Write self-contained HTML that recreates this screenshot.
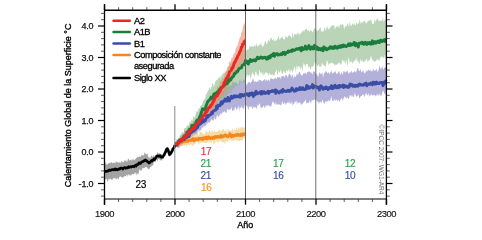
<!DOCTYPE html>
<html><head><meta charset="utf-8"><title>Calentamiento Global</title>
<style>html,body{margin:0;padding:0;background:#fff;width:482px;height:232px;overflow:hidden}svg{display:block;will-change:transform}text{font-family:"Liberation Sans",sans-serif}</style>
</head><body>
<svg width="482" height="232" viewBox="0 0 482 232">
<rect width="482" height="232" fill="#fff"/>
<path d="M104.5,165.2 105.2,163.9 105.9,162 106.6,165 107.3,164.5 108,163.8 108.7,162.9 109.4,162.8 110.1,163.5 110.8,162.6 111.5,162.1 112.3,163.5 113,162.5 113.7,162.8 114.4,163.3 115.1,161.5 115.8,163.4 116.5,161.2 117.2,162.5 117.9,162.1 118.6,162.9 119.3,161.6 120,163.7 120.7,162.1 121.4,160.6 122.1,163 122.8,161.2 123.5,162.7 124.2,160 124.9,161.3 125.7,160.5 126.4,160.5 127.1,162.2 127.8,159.4 128.5,158.3 129.2,160.5 129.9,160.2 130.6,159.6 131.3,160.9 132,158.6 132.7,159.9 133.4,159.3 134.1,160.4 134.8,159.5 135.5,159.2 136.2,157.9 136.9,157.7 137.6,156.6 138.3,157.4 139,156.4 139.8,156.2 140.5,157 141.2,155.4 141.9,155.2 142.6,155.1 143.3,155.4 144,154.9 144.7,152 145.4,153.5 146.1,154.8 146.8,153.4 147.5,153.7 148.2,157.1 148.9,157.2 149.6,157.5 150.3,158.4 151,155.4 151.7,155.8 152.4,156.6 153.1,156.9 153.8,154.8 154.6,156.8 155.3,155.4 156,155.5 156.7,154.4 157.4,151.8 158.1,153.7 158.8,152.9 159.5,153.3 160.2,153.4 160.9,154.9 161.6,154.2 162.3,154.8 163,154.1 163.7,152.8 164.4,150.8 165.1,149.5 165.8,148.7 166.5,147.4 167.2,147.6 167.9,146.3 168.7,148.7 169.4,152.4 170.1,151 170.8,150.5 171.5,148.9 172.2,148.2 172.9,147.1 173.6,144.7 174.3,146.3 175,142.3 L175,147.6 174.3,149.2 173.6,149.4 172.9,151.3 172.2,154 171.5,154.8 170.8,155.9 170.1,156.4 169.4,156.8 168.7,153.9 167.9,151.5 167.2,150.1 166.5,154 165.8,154.8 165.1,156.2 164.4,156 163.7,158.5 163,159.4 162.3,159.1 161.6,160.8 160.9,160.6 160.2,160 159.5,159.3 158.8,159.3 158.1,159.2 157.4,161.8 156.7,159.3 156,160.2 155.3,162.2 154.6,162.1 153.8,161.4 153.1,165.8 152.4,165.6 151.7,165.5 151,167.5 150.3,166.6 149.6,169 148.9,168.6 148.2,169.4 147.5,168.2 146.8,167.2 146.1,167.1 145.4,167 144.7,167.7 144,168.3 143.3,168.1 142.6,168 141.9,170 141.2,170.8 140.5,170.7 139.8,169 139,170.7 138.3,175 137.6,173.8 136.9,172.7 136.2,175.7 135.5,172.6 134.8,172.4 134.1,174.6 133.4,173.9 132.7,174.2 132,173.7 131.3,175.2 130.6,175.6 129.9,174.8 129.2,175.4 128.5,173.8 127.8,176.9 127.1,173.9 126.4,175.4 125.7,176 124.9,176.4 124.2,175.7 123.5,177.1 122.8,178.2 122.1,176.9 121.4,177.2 120.7,176 120,177.3 119.3,176.4 118.6,179.4 117.9,178.6 117.2,178.3 116.5,179.1 115.8,179 115.1,177.4 114.4,178.2 113.7,178.5 113,178 112.3,180.3 111.5,179.9 110.8,178.3 110.1,179.2 109.4,179.5 108.7,178.6 108,181.6 107.3,181 106.6,178.9 105.9,178.5 105.2,179.4 104.5,180.1Z" fill="#a3a3a3"/>
<path d="M175,144.3 175.7,143.6 176.4,139.6 177.1,140.3 177.8,140.1 178.5,139.8 179.2,140 179.9,137.7 180.6,135.5 181.3,136.4 182.1,135.3 182.8,134.4 183.5,133 184.2,134.7 184.9,132.1 185.6,132.3 186.3,129.2 187,130.8 187.7,128.2 188.4,126.1 189.1,128 189.8,127.7 190.5,125.9 191.2,125.4 191.9,126.1 192.6,123.3 193.3,120.4 194,122.8 194.7,122 195.4,122.5 196.1,119.8 196.9,121.2 197.6,120.3 198.3,116.1 199,118.5 199.7,114.9 200.4,113.5 201.1,114.5 201.8,113.2 202.5,110.4 203.2,112.6 203.9,112.3 204.6,112.5 205.3,109.7 206,106.7 206.7,106.6 207.4,108.4 208.1,107.4 208.8,106.1 209.5,104.1 210.2,104 211,102.5 211.7,101.6 212.4,101.6 213.1,100.5 213.8,99.3 214.5,98.9 215.2,97.3 215.9,94.5 216.6,95.5 217.3,95.5 218,97.2 218.7,93.4 219.4,96 220.1,94.5 220.8,90.5 221.5,90 222.2,90.6 222.9,92.1 223.6,89.6 224.3,89.4 225.1,87 225.8,84.2 226.5,86.6 227.2,87.5 227.9,87.6 228.6,85.6 229.3,85.4 230,86.3 230.7,84.2 231.4,85.6 232.1,82.1 232.8,81.9 233.5,81.6 234.2,83.5 234.9,81.9 235.6,82.5 236.3,82.6 237,82.3 237.7,83.5 238.4,83.4 239.2,80 239.9,81.2 240.6,80.4 241.3,79.1 242,82.8 242.7,81.2 243.4,79.7 244.1,79.2 244.8,80.1 245.5,77.9 L245.5,105.3 244.8,104.6 244.1,108 243.4,108.9 242.7,107.3 242,108.5 241.3,105.6 240.6,108.7 239.9,106.6 239.2,111.4 238.4,105.6 237.7,108.2 237,109.8 236.3,109.4 235.6,107 234.9,107.3 234.2,110.4 233.5,110.1 232.8,111 232.1,110.5 231.4,106.5 230.7,109.4 230,109.4 229.3,109.8 228.6,109.6 227.9,110.6 227.2,107.7 226.5,113.1 225.8,112.5 225.1,112.4 224.3,110.7 223.6,112.7 222.9,111.2 222.2,113.4 221.5,113.9 220.8,112.7 220.1,115.3 219.4,115.2 218.7,116.2 218,117.4 217.3,114.2 216.6,116.4 215.9,119.4 215.2,118.9 214.5,117 213.8,120.9 213.1,119.1 212.4,120.8 211.7,118.7 211,120.5 210.2,121.3 209.5,123.3 208.8,122.4 208.1,122.1 207.4,123.8 206.7,123.3 206,125.8 205.3,125.7 204.6,125.4 203.9,127.7 203.2,125.1 202.5,128.5 201.8,127.1 201.1,130.3 200.4,130.4 199.7,129.9 199,132.7 198.3,129.9 197.6,131.9 196.9,134.2 196.1,134.5 195.4,134 194.7,135.4 194,135.6 193.3,135.5 192.6,136.6 191.9,137.3 191.2,138.6 190.5,137.2 189.8,136.8 189.1,140.6 188.4,138 187.7,140.5 187,142.9 186.3,140.9 185.6,142.6 184.9,139.9 184.2,143 183.5,139.6 182.8,145.2 182.1,144.3 181.3,144.7 180.6,142.6 179.9,143.9 179.2,143.1 178.5,148 177.8,145 177.1,144.7 176.4,147.5 175.7,148.1 175,146.3Z" fill="#a6a2d3" fill-opacity="0.85"/>
<path d="M245.5,83.5 246.2,84.1 246.9,85.5 247.6,83 248.3,82.3 249,82.3 249.7,82.1 250.4,83.6 251.1,81.8 251.8,81.7 252.5,79.4 253.3,78.4 254,81.5 254.7,82.3 255.4,81.1 256.1,81.8 256.8,81.9 257.5,80.7 258.2,82.2 258.9,79.5 259.6,80.5 260.3,79.8 261,80.4 261.7,81.1 262.4,81.4 263.1,80.1 263.8,80.5 264.5,79.1 265.2,79.4 265.9,81.4 266.6,79.1 267.4,81.2 268.1,79.9 268.8,79.3 269.5,82 270.2,78.4 270.9,78.2 271.6,78.6 272.3,78.9 273,78.7 273.7,79.6 274.4,78.3 275.1,78.7 275.8,77.6 276.5,79.5 277.2,77.1 277.9,77.1 278.6,77.5 279.3,77.8 280,76.2 280.8,79.5 281.5,76.1 282.2,76.3 282.9,76.1 283.6,75.8 284.3,77.4 285,76.6 285.7,75.1 286.4,75.3 287.1,75.6 287.8,78.2 288.5,74.9 289.2,73.8 289.9,74 290.6,75.2 291.3,77.9 292,73.9 292.7,75.5 293.4,79.2 294.1,74.5 294.9,77.4 295.6,77 296.3,75.8 297,72.8 297.7,75.3 298.4,74.1 299.1,71.7 299.8,71.9 300.5,74.5 301.2,74.6 301.9,76.1 302.6,75.1 303.3,73.2 304,73.2 304.7,73.5 305.4,72 306.1,74.7 306.8,73.4 307.5,72 308.2,72 308.9,71.1 309.7,72 310.4,72.9 311.1,71.7 311.8,73.7 312.5,74.5 313.2,70.9 313.9,71.8 314.6,71.2 315.3,74.3 316,72.7 316.7,74 317.4,75 318.1,77.2 318.8,74.1 319.5,72.2 320.2,73 320.9,74.6 321.6,73.6 322.3,72.4 323,77.9 323.8,73.8 324.5,72.7 325.2,72.5 325.9,70.8 326.6,71.7 327.3,73 328,73 328.7,72.2 329.4,74.2 330.1,73.4 330.8,71.9 331.5,70.2 332.2,73.5 332.9,73.3 333.6,72.8 334.3,71 335,73.1 335.7,70.7 336.4,74.5 337.1,73.2 337.9,73.2 338.6,71.6 339.3,71.1 340,75.1 340.7,74.1 341.4,72.1 342.1,73.6 342.8,74.9 343.5,70.8 344.2,71.6 344.9,71.6 345.6,73.1 346.3,70.6 347,72.6 347.7,70.4 348.4,73.6 349.1,73.4 349.8,71.7 350.5,73.1 351.2,70.9 352,71.5 352.7,73.3 353.4,71.7 354.1,72.3 354.8,70.2 355.5,72.6 356.2,72.3 356.9,69.6 357.6,67.9 358.3,68.3 359,71.3 359.7,70.9 360.4,68.8 361.1,71.4 361.8,72.7 362.5,70.9 363.2,70.3 363.9,72.2 364.6,73.5 365.3,73.1 366.1,69.7 366.8,71.9 367.5,70.8 368.2,70.2 368.9,69.5 369.6,70.9 370.3,69.5 371,71.7 371.7,70.8 372.4,71.7 373.1,68.3 373.8,70 374.5,71.1 375.2,70.4 375.9,70.1 376.6,68.6 377.3,72.1 378,71.1 378.7,70 379.4,65.4 380.2,67.8 380.9,69.4 381.6,68 382.3,65.8 383,69.3 383.7,69.4 384.4,66.9 385.1,67.9 385.8,67.6 386.5,69.3 L386.5,93.9 385.8,93.9 385.1,93 384.4,94.6 383.7,91.1 383,90.7 382.3,92.6 381.6,96.2 380.9,94.3 380.2,96.3 379.4,93.6 378.7,95.1 378,96.3 377.3,93.5 376.6,94.9 375.9,96.8 375.2,95.2 374.5,94.9 373.8,95.6 373.1,94.7 372.4,95.9 371.7,94.1 371,94.6 370.3,95.6 369.6,96.9 368.9,92.7 368.2,95.3 367.5,95.2 366.8,94.4 366.1,92.4 365.3,94.4 364.6,97.5 363.9,94.6 363.2,95.4 362.5,93.9 361.8,95.8 361.1,96 360.4,96.5 359.7,98.8 359,96.9 358.3,94.3 357.6,95.7 356.9,96.4 356.2,97.1 355.5,95.1 354.8,92.4 354.1,96.6 353.4,97.4 352.7,95 352,97.2 351.2,94.7 350.5,96.3 349.8,94.5 349.1,98.2 348.4,98.9 347.7,98.1 347,96.3 346.3,98.8 345.6,97.7 344.9,96.8 344.2,96.6 343.5,98.7 342.8,100.9 342.1,98.5 341.4,98.1 340.7,99.1 340,100.9 339.3,102 338.6,99.6 337.9,100.5 337.1,100.7 336.4,99.3 335.7,100.2 335,101.3 334.3,98.4 333.6,101.1 332.9,100.6 332.2,101.6 331.5,96.1 330.8,98.7 330.1,100.4 329.4,101.6 328.7,99.7 328,101.7 327.3,100.7 326.6,102.1 325.9,101.2 325.2,101.6 324.5,103.9 323.8,103.2 323,101.3 322.3,99 321.6,103.8 320.9,101.4 320.2,102.2 319.5,102.1 318.8,104.2 318.1,101.4 317.4,101.5 316.7,101 316,98.9 315.3,100.3 314.6,99.3 313.9,100.2 313.2,99.8 312.5,100.7 311.8,99.5 311.1,103.8 310.4,101.9 309.7,100.3 308.9,103.1 308.2,102.8 307.5,102.6 306.8,104 306.1,102 305.4,99.3 304.7,101.4 304,101.4 303.3,103 302.6,104.5 301.9,102.8 301.2,105.5 300.5,103.8 299.8,101.5 299.1,103.5 298.4,103 297.7,101.4 297,105.1 296.3,100.5 295.6,101.8 294.9,101.8 294.1,103.7 293.4,104 292.7,106.1 292,100.7 291.3,103.9 290.6,103 289.9,104.3 289.2,100.8 288.5,103.1 287.8,102.9 287.1,101.9 286.4,103.8 285.7,105.2 285,102.5 284.3,102.8 283.6,104.1 282.9,103.9 282.2,100.3 281.5,104.5 280.8,105.7 280,104.2 279.3,104.8 278.6,104.1 277.9,104.7 277.2,104.5 276.5,104.5 275.8,102.2 275.1,105.6 274.4,103.5 273.7,102.6 273,101.6 272.3,101.9 271.6,104.9 270.9,107.6 270.2,106 269.5,105.9 268.8,105.3 268.1,105.7 267.4,105.5 266.6,104.9 265.9,107.8 265.2,105 264.5,108.8 263.8,105.5 263.1,106.5 262.4,107.7 261.7,107.3 261,108.8 260.3,106 259.6,103 258.9,104.4 258.2,105.8 257.5,104.4 256.8,110 256.1,107 255.4,107.5 254.7,107.1 254,107.8 253.3,106.2 252.5,109.5 251.8,107.4 251.1,105.9 250.4,106.4 249.7,107.5 249,106.2 248.3,110.5 247.6,106.4 246.9,106.6 246.2,104.9 245.5,104.7Z" fill="#a6a2d3" fill-opacity="0.85"/>
<path d="M175,141.3 175.7,144.4 176.4,140.1 177.1,140.7 177.8,137.6 178.5,138.3 179.2,138.4 179.9,136 180.6,134.2 181.3,134.1 182.1,132.3 182.8,132.6 183.5,133.7 184.2,128.6 184.9,128 185.6,127.9 186.3,127.2 187,124.9 187.7,126.1 188.4,125.6 189.1,123.9 189.8,121 190.5,123.7 191.2,119.1 191.9,120.7 192.6,120.4 193.3,116.1 194,117 194.7,117.7 195.4,115.3 196.1,112.4 196.9,110.8 197.6,111.9 198.3,109.5 199,107.9 199.7,108.5 200.4,105.9 201.1,105.2 201.8,104.7 202.5,103.4 203.2,101.3 203.9,100 204.6,99.4 205.3,97.8 206,94.3 206.7,94.2 207.4,92 208.1,90.3 208.8,90.1 209.5,86.6 210.2,90 211,86.8 211.7,87.4 212.4,83.5 213.1,82.8 213.8,87.2 214.5,84.9 215.2,81.8 215.9,80.8 216.6,80 217.3,80.3 218,78.7 218.7,77.6 219.4,77.9 220.1,75.5 220.8,79.4 221.5,74.5 222.2,76.1 222.9,72.5 223.6,73.4 224.3,73.5 225.1,70.9 225.8,71.9 226.5,71.1 227.2,71.2 227.9,68.2 228.6,66.6 229.3,65 230,65.7 230.7,63.2 231.4,63.7 232.1,63 232.8,61.2 233.5,59.6 234.2,60.8 234.9,59.7 235.6,58.8 236.3,57.5 237,58 237.7,54.4 238.4,55.6 239.2,53.5 239.9,54.5 240.6,52 241.3,51.1 242,51.4 242.7,47 243.4,48.5 244.1,45.8 244.8,46.3 245.5,48 L245.5,80.7 244.8,82.6 244.1,82.3 243.4,83 242.7,82.9 242,82.7 241.3,82.4 240.6,80.3 239.9,83.8 239.2,86.6 238.4,81.7 237.7,82.4 237,86.7 236.3,85.7 235.6,85.4 234.9,87.9 234.2,89 233.5,88.1 232.8,88.9 232.1,90.8 231.4,90.5 230.7,94.2 230,90.3 229.3,92.9 228.6,92.9 227.9,93.8 227.2,95 226.5,95.7 225.8,97.6 225.1,100 224.3,95.2 223.6,100.2 222.9,98.7 222.2,100.5 221.5,100.8 220.8,98.7 220.1,99.7 219.4,103.2 218.7,100.6 218,100.2 217.3,102.8 216.6,105 215.9,103.6 215.2,108.4 214.5,106.7 213.8,108.5 213.1,108.4 212.4,108 211.7,106.8 211,107.4 210.2,110.3 209.5,111.2 208.8,109.4 208.1,112.2 207.4,113.8 206.7,115.1 206,113 205.3,112.2 204.6,116.7 203.9,119.9 203.2,119.4 202.5,121.3 201.8,121.7 201.1,121 200.4,123.7 199.7,127.1 199,122.9 198.3,126.5 197.6,126.3 196.9,128.8 196.1,128.6 195.4,131.8 194.7,131.1 194,131.8 193.3,130.4 192.6,132.9 191.9,134.6 191.2,135.8 190.5,135.8 189.8,139 189.1,136.9 188.4,140.1 187.7,137.2 187,141.6 186.3,143.9 185.6,143.3 184.9,145 184.2,145.2 183.5,143.5 182.8,144.6 182.1,145.6 181.3,145.9 180.6,144.6 179.9,148.6 179.2,146 178.5,148.4 177.8,146.5 177.1,146.2 176.4,146.3 175.7,145.9 175,147.2Z" fill="#8ab787" fill-opacity="0.6"/>
<path d="M245.5,50.3 246.2,50 246.9,51 247.6,48.6 248.3,49.8 249,48.2 249.7,45.8 250.4,46.7 251.1,46.2 251.8,46.2 252.5,46.5 253.3,46.6 254,46.6 254.7,44.6 255.4,47.6 256.1,43.1 256.8,45.2 257.5,46.4 258.2,45.7 258.9,45.8 259.6,44.2 260.3,45.5 261,42.1 261.7,45.2 262.4,47.6 263.1,44.7 263.8,46.7 264.5,43.1 265.2,41 265.9,41.4 266.6,44.6 267.4,43.4 268.1,38.8 268.8,41.1 269.5,41.5 270.2,39.4 270.9,36.8 271.6,38.6 272.3,40.4 273,39.8 273.7,39.1 274.4,41.1 275.1,41.6 275.8,39.5 276.5,41 277.2,39.3 277.9,38.8 278.6,34.7 279.3,40 280,38.5 280.8,38.4 281.5,37.2 282.2,35.9 282.9,38.4 283.6,38.7 284.3,40 285,38.5 285.7,35.8 286.4,36.4 287.1,38.1 287.8,36.7 288.5,35.8 289.2,34.8 289.9,36.5 290.6,35.7 291.3,38.2 292,36.8 292.7,31.8 293.4,38.2 294.1,34.8 294.9,33.6 295.6,34.4 296.3,35 297,33.5 297.7,33.2 298.4,33.1 299.1,36.1 299.8,32.9 300.5,33.9 301.2,33.2 301.9,31.7 302.6,30.8 303.3,30.2 304,32.4 304.7,29.8 305.4,29.2 306.1,29.1 306.8,28.5 307.5,31 308.2,30.9 308.9,29 309.7,32.7 310.4,29.8 311.1,30.9 311.8,30.5 312.5,32.8 313.2,31.2 313.9,29.6 314.6,28 315.3,27.7 316,29.6 316.7,30.4 317.4,31.5 318.1,29.4 318.8,30.4 319.5,28.8 320.2,26.8 320.9,29.7 321.6,32.1 322.3,30.9 323,31.7 323.8,31.1 324.5,26.7 325.2,28.4 325.9,31.3 326.6,27.4 327.3,26.2 328,28.9 328.7,29.3 329.4,28.6 330.1,27.4 330.8,26.7 331.5,25.6 332.2,25.4 332.9,25.4 333.6,24.9 334.3,26 335,29.7 335.7,27.2 336.4,26.3 337.1,27.4 337.9,25 338.6,27.1 339.3,27.9 340,23.7 340.7,24.9 341.4,25.6 342.1,24.3 342.8,23.9 343.5,25 344.2,29.8 344.9,26.6 345.6,26.1 346.3,26.9 347,24.7 347.7,22.8 348.4,25.6 349.1,26.7 349.8,21.1 350.5,25.2 351.2,26.5 352,23.8 352.7,23.4 353.4,25.3 354.1,22.6 354.8,24.8 355.5,25.4 356.2,23.4 356.9,22.3 357.6,24.7 358.3,22.9 359,23.5 359.7,18.4 360.4,24.4 361.1,20.7 361.8,23.1 362.5,23.1 363.2,21.6 363.9,21.2 364.6,20.4 365.3,22 366.1,23.5 366.8,23.3 367.5,21.4 368.2,21.2 368.9,19.7 369.6,21.3 370.3,20.1 371,19.2 371.7,21.5 372.4,24.3 373.1,23.7 373.8,24 374.5,18.7 375.2,22.9 375.9,19.2 376.6,20.2 377.3,18.1 378,19.2 378.7,21 379.4,21.1 380.2,20.5 380.9,20.2 381.6,21.2 382.3,20.2 383,17.2 383.7,22.7 384.4,19.2 385.1,21 385.8,18.7 386.5,17 L386.5,55.5 385.8,60.1 385.1,53.7 384.4,57.3 383.7,59.1 383,56.3 382.3,57.6 381.6,56 380.9,58.4 380.2,56.5 379.4,61.5 378.7,59.9 378,60.3 377.3,58.4 376.6,60.5 375.9,60.5 375.2,61.6 374.5,61.5 373.8,61.4 373.1,60.3 372.4,60.1 371.7,58.6 371,55.5 370.3,58.3 369.6,60.3 368.9,59.7 368.2,61.8 367.5,61.3 366.8,59.2 366.1,59.1 365.3,61.3 364.6,61.4 363.9,61.2 363.2,62.5 362.5,60.8 361.8,59.8 361.1,62.4 360.4,58.6 359.7,63.1 359,64.3 358.3,60.6 357.6,62.3 356.9,57.1 356.2,61 355.5,59.1 354.8,60.9 354.1,60.5 353.4,62.5 352.7,64 352,61.3 351.2,61.9 350.5,61.3 349.8,63.5 349.1,59 348.4,57.2 347.7,66.7 347,63.1 346.3,59.4 345.6,64.7 344.9,59.7 344.2,62.9 343.5,60.9 342.8,59.5 342.1,61.2 341.4,64.2 340.7,64.1 340,65.2 339.3,62 338.6,62.7 337.9,64.6 337.1,63.3 336.4,65.6 335.7,64 335,66.3 334.3,64.1 333.6,64.5 332.9,62.5 332.2,63.1 331.5,63.2 330.8,62.4 330.1,64.5 329.4,62.7 328.7,65.3 328,63.3 327.3,60.1 326.6,61.8 325.9,66.5 325.2,66.5 324.5,66.1 323.8,64.3 323,66.1 322.3,62.1 321.6,64.8 320.9,67.4 320.2,65.7 319.5,67.4 318.8,63.8 318.1,66 317.4,66.7 316.7,63.5 316,65.2 315.3,63.1 314.6,62 313.9,65.6 313.2,65.8 312.5,67.3 311.8,65.5 311.1,68.7 310.4,69.7 309.7,66.3 308.9,68.2 308.2,66.3 307.5,63.7 306.8,63.7 306.1,64.1 305.4,68.3 304.7,63.7 304,65.8 303.3,62.2 302.6,71.6 301.9,68.6 301.2,66.5 300.5,69.7 299.8,67.6 299.1,66.3 298.4,66 297.7,66.7 297,70.5 296.3,64.2 295.6,72.7 294.9,66.3 294.1,67.9 293.4,69.9 292.7,73.3 292,70.7 291.3,69.2 290.6,70.7 289.9,73.4 289.2,69.5 288.5,69.6 287.8,71.9 287.1,70 286.4,70.3 285.7,73.1 285,73.8 284.3,71 283.6,71 282.9,73.9 282.2,73.7 281.5,72.4 280.8,68.9 280,72.5 279.3,72.4 278.6,70.5 277.9,73.4 277.2,74.9 276.5,68.9 275.8,71.7 275.1,72.2 274.4,75.4 273.7,75 273,75.9 272.3,73.7 271.6,75.1 270.9,75.3 270.2,74.3 269.5,73 268.8,75.5 268.1,74.6 267.4,72.7 266.6,72.8 265.9,72.1 265.2,73.2 264.5,74.1 263.8,76 263.1,71.6 262.4,75.7 261.7,73.1 261,71.9 260.3,72.9 259.6,69.5 258.9,72.7 258.2,77.1 257.5,74.7 256.8,74.3 256.1,71.3 255.4,72 254.7,77 254,74.2 253.3,74.2 252.5,72.1 251.8,74.5 251.1,76.3 250.4,79.6 249.7,75 249,74.3 248.3,76.6 247.6,73.8 246.9,78.7 246.2,74.8 245.5,76.5Z" fill="#8ab787" fill-opacity="0.6"/>
<path d="M175,141.1 175.7,142.1 176.4,140.8 177.1,139.3 177.8,141.2 178.5,138.9 179.2,139.9 179.9,138.8 180.6,137.8 181.3,136.2 182.1,134.9 182.8,133.6 183.5,135.4 184.2,129.8 184.9,130.3 185.6,130.3 186.3,131.2 187,130.1 187.7,128.4 188.4,127.9 189.1,130.2 189.8,125.9 190.5,122 191.2,128.2 191.9,123.3 192.6,123.4 193.3,123.3 194,120.3 194.7,123.2 195.4,120.4 196.1,117.6 196.9,119.2 197.6,118.6 198.3,117 199,116.9 199.7,113.1 200.4,115.7 201.1,112.2 201.8,114.4 202.5,110.6 203.2,110.8 203.9,113.4 204.6,108.7 205.3,109.2 206,107.3 206.7,103.4 207.4,106.2 208.1,105.1 208.8,100.4 209.5,101.3 210.2,98.1 211,98.7 211.7,99.3 212.4,97 213.1,93.9 213.8,93.1 214.5,93.3 215.2,92 215.9,91 216.6,90.5 217.3,85.5 218,87.1 218.7,87.5 219.4,85.2 220.1,82.2 220.8,81 221.5,80.8 222.2,80.3 222.9,77.9 223.6,79 224.3,77.1 225.1,72.6 225.8,72.9 226.5,70.1 227.2,67.4 227.9,66.6 228.6,66 229.3,61.4 230,61.9 230.7,61.8 231.4,58.6 232.1,57.4 232.8,57.7 233.5,54.5 234.2,52.9 234.9,53.7 235.6,49.2 236.3,47.5 237,45.8 237.7,45.7 238.4,41.9 239.2,39.5 239.9,37.3 240.6,36.9 241.3,32.1 242,32.5 242.7,28.8 243.4,24.3 244.1,25 244.8,22.4 245.5,17.8 L245.5,57.3 244.8,58.4 244.1,61 243.4,60.8 242.7,62.8 242,62.9 241.3,64.9 240.6,67.5 239.9,68.1 239.2,66.7 238.4,72.5 237.7,70.1 237,73.1 236.3,74 235.6,75.4 234.9,74.2 234.2,75.2 233.5,77.1 232.8,79.6 232.1,81.3 231.4,82.1 230.7,82.3 230,83.8 229.3,86 228.6,84.4 227.9,89.2 227.2,87.2 226.5,89.1 225.8,89.9 225.1,91.1 224.3,93.4 223.6,95.2 222.9,96 222.2,93.9 221.5,96.8 220.8,96 220.1,96.1 219.4,100.9 218.7,98.8 218,101.6 217.3,103.7 216.6,104.4 215.9,105.1 215.2,105.4 214.5,106.2 213.8,108.9 213.1,110.3 212.4,108.9 211.7,110.8 211,111.7 210.2,112.9 209.5,113.9 208.8,113.1 208.1,118.4 207.4,116.7 206.7,117.4 206,118.5 205.3,121.3 204.6,119.4 203.9,120.8 203.2,120.1 202.5,122.7 201.8,121 201.1,124.5 200.4,124.8 199.7,126.8 199,128.2 198.3,129 197.6,129.7 196.9,126.9 196.1,131.5 195.4,132.7 194.7,133.8 194,132.8 193.3,134.6 192.6,133 191.9,135.7 191.2,137.3 190.5,135.6 189.8,137.2 189.1,139.6 188.4,139 187.7,140.5 187,139.8 186.3,138.6 185.6,141.4 184.9,143.3 184.2,142.2 183.5,143.2 182.8,145 182.1,143.6 181.3,145.6 180.6,145.9 179.9,146.5 179.2,146.7 178.5,146.7 177.8,149 177.1,144.5 176.4,145.9 175.7,146.9 175,147.2Z" fill="#f08766" fill-opacity="0.6"/>
<path d="M175,144.3 175.7,141.6 176.4,142.5 177.1,142 177.8,142.6 178.5,141.3 179.2,139.4 179.9,141.5 180.6,138.6 181.3,138.5 182.1,138.2 182.8,140.9 183.5,137.8 184.2,136.5 184.9,138 185.6,136.7 186.3,139.6 187,135.6 187.7,137.1 188.4,135 189.1,138.2 189.8,134.8 190.5,135.8 191.2,134.3 191.9,136.4 192.6,135.8 193.3,132 194,135.7 194.7,135.4 195.4,134.7 196.1,135.5 196.9,132.6 197.6,131.8 198.3,134.7 199,135.8 199.7,132 200.4,131.9 201.1,132.2 201.8,131.6 202.5,134 203.2,133 203.9,134.4 204.6,134.4 205.3,131.2 206,133.2 206.7,129.4 207.4,132.1 208.1,132.9 208.8,131 209.5,129.7 210.2,131.2 211,133.3 211.7,131.2 212.4,129.8 213.1,132.1 213.8,132.4 214.5,130 215.2,131 215.9,132.5 216.6,131.5 217.3,131.9 218,130.5 218.7,130.6 219.4,129.2 220.1,129.7 220.8,132.5 221.5,129.9 222.2,129.2 222.9,129.7 223.6,128.9 224.3,130.8 225.1,131.2 225.8,128.7 226.5,131.2 227.2,132.4 227.9,128.3 228.6,130.5 229.3,129.8 230,131.1 230.7,131 231.4,130.7 232.1,129.6 232.8,128.6 233.5,131.8 234.2,127.9 234.9,130.2 235.6,130 236.3,127.7 237,128.6 237.7,130.3 238.4,126 239.2,129.3 239.9,127.8 240.6,127.8 241.3,126.2 242,128.4 242.7,126.5 243.4,128.6 244.1,126.2 244.8,128.5 245.5,127.9 L245.5,139.8 244.8,139.2 244.1,138.2 243.4,137.4 242.7,140.7 242,140.2 241.3,140.8 240.6,140.2 239.9,140.8 239.2,141.4 238.4,139.9 237.7,140.7 237,140.7 236.3,140.4 235.6,139.2 234.9,140.6 234.2,140.8 233.5,140.8 232.8,141.1 232.1,139.9 231.4,141.6 230.7,139.2 230,139.8 229.3,140.8 228.6,139.3 227.9,143 227.2,141.9 226.5,140.7 225.8,140.7 225.1,144.4 224.3,141.9 223.6,141.7 222.9,143 222.2,141.4 221.5,141.1 220.8,142.8 220.1,139.7 219.4,141.2 218.7,141.6 218,143.4 217.3,141 216.6,142 215.9,139.6 215.2,142.8 214.5,143.3 213.8,144.1 213.1,143 212.4,140.1 211.7,143 211,142.9 210.2,141.6 209.5,143 208.8,140.8 208.1,143.7 207.4,141.8 206.7,142.9 206,142.9 205.3,142.8 204.6,142.7 203.9,142.5 203.2,142.4 202.5,142 201.8,143.5 201.1,142.2 200.4,143.2 199.7,142.4 199,145.1 198.3,144.1 197.6,141.8 196.9,142.5 196.1,142.6 195.4,143.9 194.7,145.2 194,143.6 193.3,145.6 192.6,145.9 191.9,145 191.2,144.5 190.5,143.6 189.8,146 189.1,144.1 188.4,144.9 187.7,145.2 187,145.3 186.3,147.4 185.6,144.2 184.9,146.3 184.2,145.2 183.5,144.9 182.8,145.9 182.1,145.7 181.3,143.5 180.6,143.6 179.9,146.5 179.2,144.1 178.5,146.1 177.8,144.8 177.1,142.5 176.4,145.4 175.7,145.3 175,143.6Z" fill="#eacd7e" fill-opacity="0.7"/>
<defs><clipPath id="c21"><rect x="0" y="0" width="245.3" height="232"/></clipPath></defs>
<g clip-path="url(#c21)"><polyline points="175,143.7 175.7,144.3 176.4,144.1 177.1,143.5 177.8,143.1 178.5,142.1 179.2,142.7 179.9,141 180.6,142.7 181.3,141.4 182.1,142.3 182.8,140.3 183.5,141.5 184.2,141.1 184.9,140.4 185.6,140 186.3,141.3 187,140.7 187.7,141.3 188.4,140.2 189.1,140.2 189.8,140.3 190.5,140.4 191.2,140.1 191.9,140.2 192.6,139.3 193.3,138.6 194,140.7 194.7,139.4 195.4,139.6 196.1,138.9 196.9,139.7 197.6,139.1 198.3,139.6 199,138.4 199.7,138.7 200.4,138.8 201.1,138.4 201.8,138.7 202.5,139.5 203.2,138 203.9,138.2 204.6,138.4 205.3,137.6 206,137.3 206.7,138.7 207.4,138.5 208.1,136.9 208.8,136.9 209.5,138.2 210.2,138.4 211,138 211.7,137.8 212.4,138.5 213.1,137.4 213.8,138.1 214.5,138 215.2,136.6 215.9,137.5 216.6,137.1 217.3,136.5 218,136.4 218.7,137 219.4,136.7 220.1,137.2 220.8,135.5 221.5,136.1 222.2,137.1 222.9,136.4 223.6,135.8 224.3,135.9 225.1,135 225.8,135.2 226.5,136.3 227.2,136 227.9,136.7 228.6,135.6 229.3,135.6 230,133.9 230.7,135.5 231.4,136.8 232.1,135.8 232.8,135.3 233.5,136.1 234.2,135.8 234.9,135.4 235.6,134.8 236.3,135.1 237,135.5 237.7,134.3 238.4,135.1 239.2,135 239.9,135.5 240.6,135 241.3,134.1 242,135.4 242.7,134.4 243.4,133.8 244.1,134.4 244.8,134 245.5,134.7" fill="none" stroke="#f7851f" stroke-width="3.0" stroke-linejoin="round" stroke-linecap="butt"/></g>
<polyline points="175,143.8 175.7,143.5 176.4,143.9 177.1,145.3 177.8,144.1 178.5,141.7 179.2,140.4 179.9,141.3 180.6,139.8 181.3,141 182.1,140.1 182.8,139.4 183.5,138.4 184.2,139.7 184.9,136.8 185.6,135.9 186.3,137.7 187,137.3 187.7,135.1 188.4,135.4 189.1,136.5 189.8,132.9 190.5,132.9 191.2,132.9 191.9,129.8 192.6,131.1 193.3,131.3 194,129.9 194.7,130.3 195.4,129.5 196.1,127.7 196.9,128 197.6,127.3 198.3,124.6 199,124.7 199.7,124.2 200.4,123.8 201.1,123.1 201.8,121.5 202.5,122.2 203.2,119.7 203.9,121.6 204.6,120.2 205.3,120.5 206,118.8 206.7,117.2 207.4,115.6 208.1,116.9 208.8,115.5 209.5,115.1 210.2,114.8 211,114.5 211.7,112.6 212.4,113.6 213.1,111.2 213.8,110.6 214.5,110.6 215.2,110.2 215.9,109.9 216.6,106.1 217.3,108.5 218,105.1 218.7,105.3 219.4,105.6 220.1,105.7 220.8,103 221.5,101.8 222.2,103.8 222.9,102.6 223.6,100.9 224.3,101.1 225.1,99.1 225.8,101.1 226.5,99.7 227.2,101 227.9,97.5 228.6,99.9 229.3,101 230,98.7 230.7,98.5 231.4,96.3 232.1,98.2 232.8,97.7 233.5,96.9 234.2,95.8 234.9,97.1 235.6,95.9 236.3,96.2 237,96.8 237.7,96.3 238.4,96.2 239.2,96.9 239.9,94.7 240.6,97 241.3,94.5 242,94.5 242.7,95.4 243.4,95.9 244.1,95.3 244.8,94.5 245.5,94.1 246.2,94.4 246.9,93.7 247.6,95 248.3,94.2 249,95.8 249.7,93.5 250.4,94 251.1,94.5 251.8,92.9 252.5,93.2 253.3,96.5 254,93.7 254.7,95 255.4,92.6 256.1,91.2 256.8,93.9 257.5,93.3 258.2,93.5 258.9,92.9 259.6,92.6 260.3,91.9 261,94 261.7,91.5 262.4,93.8 263.1,92.6 263.8,91.7 264.5,92 265.2,93.5 265.9,93.2 266.6,92.9 267.4,92.4 268.1,91.2 268.8,93.5 269.5,91.7 270.2,91.5 270.9,91.5 271.6,91.5 272.3,90.5 273,91.4 273.7,91 274.4,91.2 275.1,89.9 275.8,93.4 276.5,90.3 277.2,91.7 277.9,91.6 278.6,92.2 279.3,93 280,91.5 280.8,91.7 281.5,90.6 282.2,92.3 282.9,89.5 283.6,90.5 284.3,91 285,91.3 285.7,91.3 286.4,91.6 287.1,90.9 287.8,90.3 288.5,90.4 289.2,91.5 289.9,90.3 290.6,90.9 291.3,89.8 292,88.1 292.7,89.2 293.4,90 294.1,91.1 294.9,90.9 295.6,91 296.3,88.7 297,90 297.7,89.1 298.4,89.7 299.1,88.9 299.8,87.6 300.5,89.4 301.2,89 301.9,89.3 302.6,87.7 303.3,89.3 304,89.3 304.7,89.5 305.4,89.4 306.1,87.5 306.8,85.4 307.5,88.6 308.2,86.6 308.9,87 309.7,88.1 310.4,87.2 311.1,87 311.8,87.2 312.5,84.6 313.2,88.1 313.9,85.9 314.6,85.9 315.3,86.7 316,86.5 316.7,86.7 317.4,87.9 318.1,87.7 318.8,87.4 319.5,90 320.2,86.6 320.9,85.9 321.6,87.1 322.3,87 323,89.3 323.8,88 324.5,88.7 325.2,88.4 325.9,86.9 326.6,88.6 327.3,87.9 328,89.5 328.7,87.8 329.4,87.5 330.1,88.2 330.8,88.2 331.5,85.7 332.2,88.6 332.9,88.4 333.6,88.1 334.3,86.1 335,85.2 335.7,86.8 336.4,87.8 337.1,87.4 337.9,86 338.6,87.8 339.3,85.5 340,85.5 340.7,86.7 341.4,86.1 342.1,85.9 342.8,85.1 343.5,87.5 344.2,85.3 344.9,86.7 345.6,87 346.3,86.1 347,86.4 347.7,87 348.4,87.5 349.1,86.9 349.8,84.5 350.5,84 351.2,85.2 352,84.6 352.7,86.2 353.4,85.7 354.1,85.3 354.8,86.5 355.5,86.3 356.2,85.3 356.9,85.6 357.6,86.2 358.3,84.8 359,85.3 359.7,84 360.4,84.9 361.1,85.1 361.8,84.7 362.5,84.9 363.2,85.3 363.9,84.9 364.6,83.8 365.3,83.8 366.1,83.1 366.8,85.8 367.5,84.5 368.2,84.5 368.9,83.8 369.6,84.4 370.3,84.3 371,83 371.7,83.5 372.4,84.7 373.1,82.2 373.8,82.5 374.5,83.9 375.2,82.5 375.9,83.9 376.6,82 377.3,83.2 378,83.6 378.7,83.1 379.4,83.4 380.2,82.4 380.9,82.4 381.6,82.4 382.3,82.9 383,85.7 383.7,82.1 384.4,83.8 385.1,81.7 385.8,80.8 386.5,81.5" fill="none" stroke="#3a4ea5" stroke-width="2.9" stroke-linejoin="round" stroke-linecap="butt"/>
<polyline points="175,145.4 175.7,144.7 176.4,144.2 177.1,144 177.8,143.5 178.5,143.2 179.2,140.6 179.9,141.1 180.6,139.5 181.3,140 182.1,139 182.8,138.5 183.5,137.2 184.2,136.1 184.9,135.9 185.6,135.9 186.3,135.2 187,132.1 187.7,133.1 188.4,132.3 189.1,129.8 189.8,129.3 190.5,128.9 191.2,128.9 191.9,125.4 192.6,126.4 193.3,125.3 194,125.1 194.7,125.3 195.4,124.2 196.1,121.5 196.9,120.4 197.6,119.9 198.3,119.6 199,118.7 199.7,116.4 200.4,116.3 201.1,112.9 201.8,111.5 202.5,108.8 203.2,109.4 203.9,109.6 204.6,108.6 205.3,109.8 206,105.8 206.7,104.3 207.4,102.1 208.1,101.4 208.8,100.4 209.5,99.9 210.2,98.6 211,97.1 211.7,98.7 212.4,97.4 213.1,97.6 213.8,94.1 214.5,93.7 215.2,93.5 215.9,94.7 216.6,92.7 217.3,92.4 218,91.4 218.7,90.9 219.4,89.5 220.1,89.7 220.8,87.8 221.5,87.7 222.2,87.5 222.9,86.7 223.6,86.3 224.3,84.4 225.1,84.7 225.8,83.5 226.5,83.4 227.2,83.7 227.9,80.7 228.6,81.8 229.3,79.3 230,78.8 230.7,80 231.4,78.5 232.1,77.3 232.8,76.8 233.5,76.4 234.2,73.8 234.9,74 235.6,72.6 236.3,72.6 237,71.1 237.7,71.3 238.4,69.8 239.2,68.5 239.9,68.3 240.6,68 241.3,67.9 242,65.9 242.7,64.9 243.4,64.8 244.1,64.6 244.8,62.8 245.5,60.5 246.2,62.8 246.9,61.9 247.6,61.6 248.3,64.1 249,61.3 249.7,61.8 250.4,59.6 251.1,61 251.8,61.3 252.5,60.5 253.3,60 254,60.5 254.7,59.9 255.4,60.9 256.1,59.7 256.8,58.6 257.5,57.3 258.2,58.4 258.9,58.6 259.6,57.6 260.3,57.7 261,56.9 261.7,57.3 262.4,58.3 263.1,57.8 263.8,57.7 264.5,57.4 265.2,57.3 265.9,58.1 266.6,59.1 267.4,57.6 268.1,58.7 268.8,56.5 269.5,56.4 270.2,57.8 270.9,55.4 271.6,55.1 272.3,55.6 273,54 273.7,53.6 274.4,56.3 275.1,54 275.8,54.4 276.5,54.3 277.2,53.6 277.9,55 278.6,54.7 279.3,54.8 280,54.5 280.8,53.7 281.5,54.8 282.2,54.3 282.9,52.6 283.6,53 284.3,52.4 285,54.4 285.7,53.2 286.4,52.8 287.1,52.1 287.8,52.5 288.5,50.9 289.2,51.7 289.9,51.4 290.6,51.3 291.3,50.4 292,51.4 292.7,49.7 293.4,50.1 294.1,50.3 294.9,50.2 295.6,49.6 296.3,48.9 297,48.8 297.7,49.2 298.4,48.6 299.1,49.1 299.8,47.9 300.5,49 301.2,50.8 301.9,47.4 302.6,48.4 303.3,49.5 304,48.5 304.7,49 305.4,46.1 306.1,47.5 306.8,49.3 307.5,47.2 308.2,48 308.9,45.6 309.7,48.3 310.4,49.3 311.1,47.1 311.8,47.4 312.5,47.3 313.2,48.9 313.9,46.4 314.6,45.2 315.3,48.6 316,46.4 316.7,49.4 317.4,47.4 318.1,49.2 318.8,49.7 319.5,48.5 320.2,48.9 320.9,49.9 321.6,48.5 322.3,49.6 323,50.7 323.8,46.9 324.5,49 325.2,49.2 325.9,48.1 326.6,49.8 327.3,49.5 328,48.6 328.7,48.6 329.4,47.9 330.1,46.8 330.8,48.2 331.5,47.2 332.2,47 332.9,48.5 333.6,47.2 334.3,48.2 335,46.2 335.7,46.7 336.4,47 337.1,48.2 337.9,46.8 338.6,47.5 339.3,46 340,46.7 340.7,47.3 341.4,45.5 342.1,45.6 342.8,46.8 343.5,45 344.2,46.3 344.9,46.2 345.6,45.7 346.3,46.5 347,46.1 347.7,45.7 348.4,44 349.1,44 349.8,45.6 350.5,43.7 351.2,45.2 352,44.7 352.7,44.1 353.4,44.6 354.1,42.5 354.8,44.5 355.5,45.7 356.2,43.3 356.9,44.8 357.6,44.6 358.3,47.1 359,43.2 359.7,43.3 360.4,43.2 361.1,43 361.8,42.2 362.5,43.8 363.2,42.7 363.9,44.2 364.6,43.8 365.3,42.3 366.1,42.9 366.8,44.4 367.5,42.7 368.2,43.1 368.9,43.7 369.6,42.4 370.3,43.1 371,44.1 371.7,43.6 372.4,40.8 373.1,43.9 373.8,42.1 374.5,41.7 375.2,41.6 375.9,43.2 376.6,42.3 377.3,41.8 378,41 378.7,42.3 379.4,42.6 380.2,40.5 380.9,40.2 381.6,40.8 382.3,41.5 383,40.4 383.7,40.5 384.4,39.6 385.1,41.4 385.8,39.7 386.5,39.4" fill="none" stroke="#1a7d3c" stroke-width="2.9" stroke-linejoin="round" stroke-linecap="butt"/>
<g clip-path="url(#c21)"><polyline points="175,145.8 175.7,144.4 176.4,144 177.1,143.8 177.8,142.8 178.5,143.4 179.2,142 179.9,141.1 180.6,140.6 181.3,139.5 182.1,140.4 182.8,140 183.5,138.2 184.2,137.5 184.9,135.8 185.6,136.1 186.3,136.3 187,134.6 187.7,135 188.4,134.7 189.1,131.4 189.8,132.1 190.5,131.1 191.2,130.5 191.9,128.9 192.6,129.1 193.3,127.7 194,128.4 194.7,127.8 195.4,125.2 196.1,124.3 196.9,124.1 197.6,123.4 198.3,122.6 199,122.3 199.7,120 200.4,119.6 201.1,118.8 201.8,118 202.5,116.6 203.2,116 203.9,114.9 204.6,115.2 205.3,113.2 206,111.1 206.7,111.8 207.4,110.6 208.1,108.9 208.8,107.8 209.5,107 210.2,107.3 211,104.9 211.7,104.9 212.4,103.6 213.1,101.6 213.8,101.1 214.5,99.2 215.2,96.6 215.9,97 216.6,95.9 217.3,95.7 218,94.4 218.7,93.4 219.4,91.9 220.1,91 220.8,89.5 221.5,88 222.2,87.3 222.9,86.3 223.6,84.9 224.3,82.5 225.1,81.5 225.8,79.5 226.5,78.2 227.2,77.8 227.9,75.8 228.6,75.8 229.3,72 230,71.4 230.7,70.9 231.4,70.1 232.1,67.7 232.8,67.7 233.5,65.5 234.2,63.1 234.9,62.1 235.6,61 236.3,58.6 237,58.4 237.7,56 238.4,55 239.2,53.7 239.9,51.3 240.6,50.7 241.3,47.3 242,47.3 242.7,44.1 243.4,44.5 244.1,41.8 244.8,41.3 245.5,39.8" fill="none" stroke="#ee2524" stroke-width="2.9" stroke-linejoin="round" stroke-linecap="butt"/></g>
<polyline points="104.5,171.5 105.2,171.2 105.9,171.3 106.6,171.5 107.3,171.1 108,171.2 108.7,170.5 109.4,169.8 110.1,170.5 110.8,170.4 111.5,169.7 112.3,169.6 113,169.6 113.7,170 114.4,169.4 115.1,168.9 115.8,169.8 116.5,169.2 117.2,169.8 117.9,169.4 118.6,169.5 119.3,168.6 120,169 120.7,168.1 121.4,168.1 122.1,168.1 122.8,169.1 123.5,168.1 124.2,167.8 124.9,167.6 125.7,168.3 126.4,167.7 127.1,167.9 127.8,167.7 128.5,166.7 129.2,167.5 129.9,167 130.6,166.5 131.3,167.1 132,166.7 132.7,166.4 133.4,166.3 134.1,166.8 134.8,165.9 135.5,165.1 136.2,166.1 136.9,164.6 137.6,164.6 138.3,164.5 139,162.8 139.8,163 140.5,163.5 141.2,162.4 141.9,161.8 142.6,161.8 143.3,161.1 144,161.2 144.7,160.5 145.4,159.9 146.1,160.8 146.8,160.7 147.5,161.7 148.2,162 148.9,163 149.6,162.6 150.3,162.1 151,161.1 151.7,160.4 152.4,161 153.1,160.1 153.8,158.9 154.6,159.6 155.3,158.3 156,157.5 156.7,156.2 157.4,155.9 158.1,156.1 158.8,156 159.5,156.1 160.2,155.7 160.9,157.1 161.6,157.4 162.3,157.1 163,156.6 163.7,155.4 164.4,154.4 165.1,152.6 165.8,151.5 166.5,149.3 167.2,148.6 167.9,149.5 168.7,152 169.4,154.6 170.1,153.8 170.8,153.4 171.5,151.8 172.2,151.2 172.9,148.8 173.6,148.2 174.3,147.1 175,145.1" fill="none" stroke="#000" stroke-width="2.6" stroke-linejoin="round"/>
<line x1="174.8" y1="106" x2="174.8" y2="199" stroke="#8a8a8a" stroke-width="1"/>
<line x1="245.5" y1="10" x2="245.5" y2="199" stroke="#626262" stroke-width="1"/>
<line x1="315.8" y1="10" x2="315.8" y2="199" stroke="#6e6e6e" stroke-width="1"/>
<line x1="104.5" y1="10.25" x2="386.5" y2="10.25" stroke="#000" stroke-width="1.5"/><line x1="104.5" y1="199" x2="386.5" y2="199" stroke="#000" stroke-width="1"/><line x1="104.5" y1="4.3" x2="104.5" y2="204.7" stroke="#000" stroke-width="1.3"/><line x1="386.4" y1="4.3" x2="386.4" y2="204.7" stroke="#000" stroke-width="1.3"/><line x1="104.5" y1="4.3" x2="104.5" y2="10" stroke="#000" stroke-width="1.3"/><line x1="104.5" y1="199" x2="104.5" y2="204.7" stroke="#000" stroke-width="1.3"/><line x1="118.6" y1="7.2" x2="118.6" y2="10" stroke="#333" stroke-width="0.8"/><line x1="118.6" y1="199" x2="118.6" y2="202" stroke="#333" stroke-width="0.8"/><line x1="132.7" y1="7.2" x2="132.7" y2="10" stroke="#333" stroke-width="0.8"/><line x1="132.7" y1="199" x2="132.7" y2="202" stroke="#333" stroke-width="0.8"/><line x1="146.8" y1="7.2" x2="146.8" y2="10" stroke="#333" stroke-width="0.8"/><line x1="146.8" y1="199" x2="146.8" y2="202" stroke="#333" stroke-width="0.8"/><line x1="160.9" y1="7.2" x2="160.9" y2="10" stroke="#333" stroke-width="0.8"/><line x1="160.9" y1="199" x2="160.9" y2="202" stroke="#333" stroke-width="0.8"/><line x1="175" y1="4.3" x2="175" y2="10" stroke="#000" stroke-width="1.3"/><line x1="175" y1="199" x2="175" y2="204.7" stroke="#000" stroke-width="1.3"/><line x1="189.1" y1="7.2" x2="189.1" y2="10" stroke="#333" stroke-width="0.8"/><line x1="189.1" y1="199" x2="189.1" y2="202" stroke="#333" stroke-width="0.8"/><line x1="203.2" y1="7.2" x2="203.2" y2="10" stroke="#333" stroke-width="0.8"/><line x1="203.2" y1="199" x2="203.2" y2="202" stroke="#333" stroke-width="0.8"/><line x1="217.3" y1="7.2" x2="217.3" y2="10" stroke="#333" stroke-width="0.8"/><line x1="217.3" y1="199" x2="217.3" y2="202" stroke="#333" stroke-width="0.8"/><line x1="231.4" y1="7.2" x2="231.4" y2="10" stroke="#333" stroke-width="0.8"/><line x1="231.4" y1="199" x2="231.4" y2="202" stroke="#333" stroke-width="0.8"/><line x1="245.5" y1="4.3" x2="245.5" y2="10" stroke="#000" stroke-width="1.3"/><line x1="245.5" y1="199" x2="245.5" y2="204.7" stroke="#000" stroke-width="1.3"/><line x1="259.6" y1="7.2" x2="259.6" y2="10" stroke="#333" stroke-width="0.8"/><line x1="259.6" y1="199" x2="259.6" y2="202" stroke="#333" stroke-width="0.8"/><line x1="273.7" y1="7.2" x2="273.7" y2="10" stroke="#333" stroke-width="0.8"/><line x1="273.7" y1="199" x2="273.7" y2="202" stroke="#333" stroke-width="0.8"/><line x1="287.8" y1="7.2" x2="287.8" y2="10" stroke="#333" stroke-width="0.8"/><line x1="287.8" y1="199" x2="287.8" y2="202" stroke="#333" stroke-width="0.8"/><line x1="301.9" y1="7.2" x2="301.9" y2="10" stroke="#333" stroke-width="0.8"/><line x1="301.9" y1="199" x2="301.9" y2="202" stroke="#333" stroke-width="0.8"/><line x1="316" y1="4.3" x2="316" y2="10" stroke="#000" stroke-width="1.3"/><line x1="316" y1="199" x2="316" y2="204.7" stroke="#000" stroke-width="1.3"/><line x1="330.1" y1="7.2" x2="330.1" y2="10" stroke="#333" stroke-width="0.8"/><line x1="330.1" y1="199" x2="330.1" y2="202" stroke="#333" stroke-width="0.8"/><line x1="344.2" y1="7.2" x2="344.2" y2="10" stroke="#333" stroke-width="0.8"/><line x1="344.2" y1="199" x2="344.2" y2="202" stroke="#333" stroke-width="0.8"/><line x1="358.3" y1="7.2" x2="358.3" y2="10" stroke="#333" stroke-width="0.8"/><line x1="358.3" y1="199" x2="358.3" y2="202" stroke="#333" stroke-width="0.8"/><line x1="372.4" y1="7.2" x2="372.4" y2="10" stroke="#333" stroke-width="0.8"/><line x1="372.4" y1="199" x2="372.4" y2="202" stroke="#333" stroke-width="0.8"/><line x1="386.5" y1="4.3" x2="386.5" y2="10" stroke="#000" stroke-width="1.3"/><line x1="386.5" y1="199" x2="386.5" y2="204.7" stroke="#000" stroke-width="1.3"/><line x1="101" y1="196.1" x2="104.5" y2="196.1" stroke="#333" stroke-width="0.8"/><line x1="386.5" y1="196.1" x2="389.8" y2="196.1" stroke="#333" stroke-width="0.8"/><line x1="101" y1="189.8" x2="104.5" y2="189.8" stroke="#333" stroke-width="0.8"/><line x1="386.5" y1="189.8" x2="389.8" y2="189.8" stroke="#333" stroke-width="0.8"/><line x1="98" y1="183.5" x2="104.5" y2="183.5" stroke="#000" stroke-width="1.2"/><line x1="386.5" y1="183.5" x2="392.5" y2="183.5" stroke="#000" stroke-width="1.2"/><line x1="101" y1="177.2" x2="104.5" y2="177.2" stroke="#333" stroke-width="0.8"/><line x1="386.5" y1="177.2" x2="389.8" y2="177.2" stroke="#333" stroke-width="0.8"/><line x1="101" y1="170.9" x2="104.5" y2="170.9" stroke="#333" stroke-width="0.8"/><line x1="386.5" y1="170.9" x2="389.8" y2="170.9" stroke="#333" stroke-width="0.8"/><line x1="101" y1="164.6" x2="104.5" y2="164.6" stroke="#333" stroke-width="0.8"/><line x1="386.5" y1="164.6" x2="389.8" y2="164.6" stroke="#333" stroke-width="0.8"/><line x1="101" y1="158.3" x2="104.5" y2="158.3" stroke="#333" stroke-width="0.8"/><line x1="386.5" y1="158.3" x2="389.8" y2="158.3" stroke="#333" stroke-width="0.8"/><line x1="98" y1="152" x2="104.5" y2="152" stroke="#000" stroke-width="1.2"/><line x1="386.5" y1="152" x2="392.5" y2="152" stroke="#000" stroke-width="1.2"/><line x1="101" y1="145.7" x2="104.5" y2="145.7" stroke="#333" stroke-width="0.8"/><line x1="386.5" y1="145.7" x2="389.8" y2="145.7" stroke="#333" stroke-width="0.8"/><line x1="101" y1="139.4" x2="104.5" y2="139.4" stroke="#333" stroke-width="0.8"/><line x1="386.5" y1="139.4" x2="389.8" y2="139.4" stroke="#333" stroke-width="0.8"/><line x1="101" y1="133.1" x2="104.5" y2="133.1" stroke="#333" stroke-width="0.8"/><line x1="386.5" y1="133.1" x2="389.8" y2="133.1" stroke="#333" stroke-width="0.8"/><line x1="101" y1="126.8" x2="104.5" y2="126.8" stroke="#333" stroke-width="0.8"/><line x1="386.5" y1="126.8" x2="389.8" y2="126.8" stroke="#333" stroke-width="0.8"/><line x1="98" y1="120.5" x2="104.5" y2="120.5" stroke="#000" stroke-width="1.2"/><line x1="386.5" y1="120.5" x2="392.5" y2="120.5" stroke="#000" stroke-width="1.2"/><line x1="101" y1="114.2" x2="104.5" y2="114.2" stroke="#333" stroke-width="0.8"/><line x1="386.5" y1="114.2" x2="389.8" y2="114.2" stroke="#333" stroke-width="0.8"/><line x1="101" y1="107.9" x2="104.5" y2="107.9" stroke="#333" stroke-width="0.8"/><line x1="386.5" y1="107.9" x2="389.8" y2="107.9" stroke="#333" stroke-width="0.8"/><line x1="101" y1="101.6" x2="104.5" y2="101.6" stroke="#333" stroke-width="0.8"/><line x1="386.5" y1="101.6" x2="389.8" y2="101.6" stroke="#333" stroke-width="0.8"/><line x1="101" y1="95.3" x2="104.5" y2="95.3" stroke="#333" stroke-width="0.8"/><line x1="386.5" y1="95.3" x2="389.8" y2="95.3" stroke="#333" stroke-width="0.8"/><line x1="98" y1="89" x2="104.5" y2="89" stroke="#000" stroke-width="1.2"/><line x1="386.5" y1="89" x2="392.5" y2="89" stroke="#000" stroke-width="1.2"/><line x1="101" y1="82.7" x2="104.5" y2="82.7" stroke="#333" stroke-width="0.8"/><line x1="386.5" y1="82.7" x2="389.8" y2="82.7" stroke="#333" stroke-width="0.8"/><line x1="101" y1="76.4" x2="104.5" y2="76.4" stroke="#333" stroke-width="0.8"/><line x1="386.5" y1="76.4" x2="389.8" y2="76.4" stroke="#333" stroke-width="0.8"/><line x1="101" y1="70.1" x2="104.5" y2="70.1" stroke="#333" stroke-width="0.8"/><line x1="386.5" y1="70.1" x2="389.8" y2="70.1" stroke="#333" stroke-width="0.8"/><line x1="101" y1="63.8" x2="104.5" y2="63.8" stroke="#333" stroke-width="0.8"/><line x1="386.5" y1="63.8" x2="389.8" y2="63.8" stroke="#333" stroke-width="0.8"/><line x1="98" y1="57.5" x2="104.5" y2="57.5" stroke="#000" stroke-width="1.2"/><line x1="386.5" y1="57.5" x2="392.5" y2="57.5" stroke="#000" stroke-width="1.2"/><line x1="101" y1="51.2" x2="104.5" y2="51.2" stroke="#333" stroke-width="0.8"/><line x1="386.5" y1="51.2" x2="389.8" y2="51.2" stroke="#333" stroke-width="0.8"/><line x1="101" y1="44.9" x2="104.5" y2="44.9" stroke="#333" stroke-width="0.8"/><line x1="386.5" y1="44.9" x2="389.8" y2="44.9" stroke="#333" stroke-width="0.8"/><line x1="101" y1="38.6" x2="104.5" y2="38.6" stroke="#333" stroke-width="0.8"/><line x1="386.5" y1="38.6" x2="389.8" y2="38.6" stroke="#333" stroke-width="0.8"/><line x1="101" y1="32.3" x2="104.5" y2="32.3" stroke="#333" stroke-width="0.8"/><line x1="386.5" y1="32.3" x2="389.8" y2="32.3" stroke="#333" stroke-width="0.8"/><line x1="98" y1="26" x2="104.5" y2="26" stroke="#000" stroke-width="1.2"/><line x1="386.5" y1="26" x2="392.5" y2="26" stroke="#000" stroke-width="1.2"/><line x1="101" y1="19.7" x2="104.5" y2="19.7" stroke="#333" stroke-width="0.8"/><line x1="386.5" y1="19.7" x2="389.8" y2="19.7" stroke="#333" stroke-width="0.8"/><line x1="101" y1="13.4" x2="104.5" y2="13.4" stroke="#333" stroke-width="0.8"/><line x1="386.5" y1="13.4" x2="389.8" y2="13.4" stroke="#333" stroke-width="0.8"/>
<g font-family="Liberation Sans, sans-serif"><text x="93.3" y="29.1" font-size="9" fill="#111" stroke="#111" stroke-width="0.25" text-anchor="end" letter-spacing="-0.2">4.0</text><text x="93.3" y="60.6" font-size="9" fill="#111" stroke="#111" stroke-width="0.25" text-anchor="end" letter-spacing="-0.2">3.0</text><text x="93.3" y="92.1" font-size="9" fill="#111" stroke="#111" stroke-width="0.25" text-anchor="end" letter-spacing="-0.2">2.0</text><text x="93.3" y="123.6" font-size="9" fill="#111" stroke="#111" stroke-width="0.25" text-anchor="end" letter-spacing="-0.2">1.0</text><text x="93.3" y="155.1" font-size="9" fill="#111" stroke="#111" stroke-width="0.25" text-anchor="end" letter-spacing="-0.2">0.0</text><text x="93.3" y="186.6" font-size="9" fill="#111" stroke="#111" stroke-width="0.25" text-anchor="end" letter-spacing="-0.2">-1.0</text><text x="104.5" y="217.3" font-size="9.4" fill="#111" stroke="#111" stroke-width="0.15" text-anchor="middle" letter-spacing="-0.5">1900</text><text x="175" y="217.3" font-size="9.4" fill="#111" stroke="#111" stroke-width="0.15" text-anchor="middle" letter-spacing="-0.5">2000</text><text x="245.5" y="217.3" font-size="9.4" fill="#111" stroke="#111" stroke-width="0.15" text-anchor="middle" letter-spacing="-0.5">2100</text><text x="316" y="217.3" font-size="9.4" fill="#111" stroke="#111" stroke-width="0.15" text-anchor="middle" letter-spacing="-0.5">2200</text><text x="386.5" y="217.3" font-size="9.4" fill="#111" stroke="#111" stroke-width="0.15" text-anchor="middle" letter-spacing="-0.5">2300</text><text x="245.2" y="227.6" font-size="9" fill="#000" stroke="#000" stroke-width="0.3" text-anchor="middle" letter-spacing="-0.1">Año</text><text transform="translate(71.2,105.4) rotate(-90)" x="0" y="0" font-size="9.0" text-anchor="middle" fill="#000" stroke="#000" stroke-width="0.35">Calentamiento Global de la Superficie °C</text><text transform="translate(379.2,159.5) rotate(90)" x="0" y="0" font-size="6.5" text-anchor="middle" fill="#777">©IPCC 2007: WG1-AR4</text><line x1="113.5" y1="20.75" x2="129.8" y2="20.75" stroke="#ee2524" stroke-width="2.5" stroke-linecap="round"/><text x="133.9" y="23.9" font-size="9.3" fill="#000" stroke="#000" stroke-width="0.3" letter-spacing="-0.45">A2</text><line x1="113.5" y1="32" x2="129.8" y2="32" stroke="#1a7d3c" stroke-width="2.5" stroke-linecap="round"/><text x="133.9" y="35.1" font-size="9.3" fill="#000" stroke="#000" stroke-width="0.3" letter-spacing="-0.45">A1B</text><line x1="113.5" y1="43.5" x2="129.8" y2="43.5" stroke="#3a4ea5" stroke-width="2.5" stroke-linecap="round"/><text x="133.9" y="46.6" font-size="9.3" fill="#000" stroke="#000" stroke-width="0.3" letter-spacing="-0.45">B1</text><line x1="113.5" y1="55.1" x2="129.8" y2="55.1" stroke="#f7851f" stroke-width="2.5" stroke-linecap="round"/><text x="133.9" y="58.2" font-size="9.3" fill="#000" stroke="#000" stroke-width="0.3" letter-spacing="-0.45">Composición constante</text><line x1="113.5" y1="78" x2="129.8" y2="78" stroke="#000" stroke-width="2.5" stroke-linecap="round"/><text x="133.9" y="81.1" font-size="9.3" fill="#000" stroke="#000" stroke-width="0.3" letter-spacing="-0.45">Siglo XX</text><text x="133.9" y="68.6" font-size="9.3" fill="#000" stroke="#000" stroke-width="0.3" letter-spacing="-0.45">asegurada</text><text x="206" y="154.7" font-size="10.1" fill="#e8343a" stroke="#e8343a" stroke-width="0.15" text-anchor="middle" letter-spacing="-0.4">17</text><text x="205.8" y="166.9" font-size="10.1" fill="#2ca24a" stroke="#2ca24a" stroke-width="0.15" text-anchor="middle" letter-spacing="-0.4">21</text><text x="205.8" y="178.7" font-size="10.1" fill="#3a4ea5" stroke="#3a4ea5" stroke-width="0.15" text-anchor="middle" letter-spacing="-0.4">21</text><text x="206.3" y="190.5" font-size="10.1" fill="#f7941d" stroke="#f7941d" stroke-width="0.15" text-anchor="middle" letter-spacing="-0.4">16</text><text x="140.8" y="188.4" font-size="10.1" fill="#000" stroke="#000" stroke-width="0.15" text-anchor="middle" letter-spacing="-0.4">23</text><text x="278.3" y="166.9" font-size="10.1" fill="#2ca24a" stroke="#2ca24a" stroke-width="0.15" text-anchor="middle" letter-spacing="-0.4">17</text><text x="278.3" y="178.5" font-size="10.1" fill="#3a4ea5" stroke="#3a4ea5" stroke-width="0.15" text-anchor="middle" letter-spacing="-0.4">16</text><text x="349.9" y="166.9" font-size="10.1" fill="#2ca24a" stroke="#2ca24a" stroke-width="0.15" text-anchor="middle" letter-spacing="-0.4">12</text><text x="349.9" y="178.5" font-size="10.1" fill="#3a4ea5" stroke="#3a4ea5" stroke-width="0.15" text-anchor="middle" letter-spacing="-0.4">10</text></g>
</svg>
</body></html>
